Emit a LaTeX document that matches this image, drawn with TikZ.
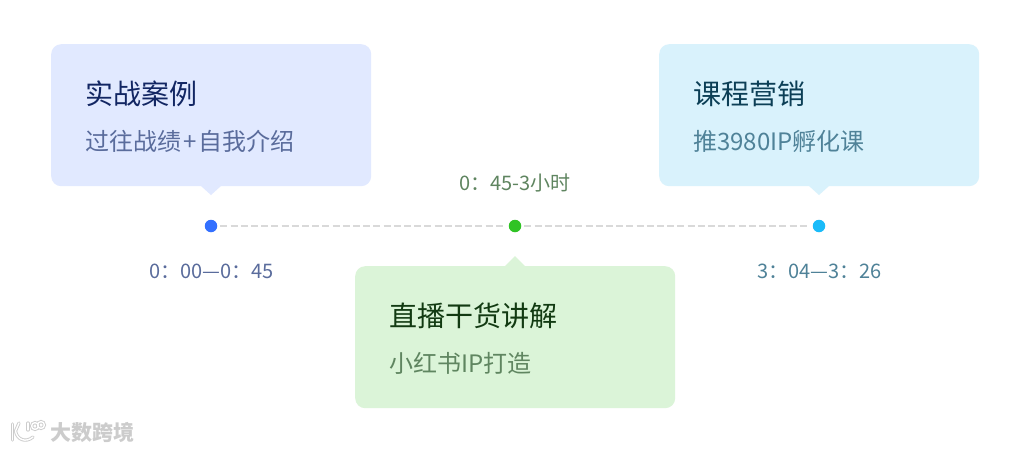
\documentclass[tikz,border=0pt]{standalone}
\usepackage{fontspec}
\setmainfont{Noto Sans CJK SC}
\definecolor{blueBg}{HTML}{E1E9FF}
\definecolor{greenBg}{HTML}{DBF4D8}
\definecolor{cyanBg}{HTML}{D9F2FC}
\definecolor{blueDot}{HTML}{3370FF}
\definecolor{greenDot}{HTML}{30C325}
\definecolor{cyanDot}{HTML}{1ABBF9}
\definecolor{blueTitle}{HTML}{122663}
\definecolor{blueSub}{HTML}{5A6C9C}
\definecolor{greenTitle}{HTML}{123A12}
\definecolor{greenSub}{HTML}{5F8560}
\definecolor{cyanTitle}{HTML}{0C3F56}
\definecolor{cyanSub}{HTML}{4F8298}
\tikzset{x=1pt,y=-1pt,
 bubble/.style={rounded corners=10pt,inner sep=0,minimum width=320pt,minimum height=142pt,draw=none},
 dotnode/.style={circle,inner sep=0,minimum size=12.5pt},
 ttl/.style={anchor=west,font=\fontsize{28}{28}\selectfont,inner sep=0},
 sub/.style={anchor=west,font=\fontsize{24}{24}\selectfont,inner sep=0},
 stamp/.style={font=\fontsize{20}{20}\selectfont,inner sep=0},
 link/.style={draw=black!15,line width=1.5pt,dash pattern=on 7pt off 3.2pt,shorten <=3pt,shorten >=3pt},
 logoOuter/.style={draw=black!20,line width=3.2pt,line cap=round},
 logoInner/.style={draw=white,line width=1.4pt,line cap=round}}
\newcommand{\logoK}[1]{%
 \draw[#1] (12.5,424) -- (12.5,440);
 \draw[#1] (19,423) -- (15.5,431) .. controls (17,440) and (26,443) .. (33,437);
 \draw[#1] (28,423) -- (28,430);
 \draw[#1] (35,426) circle[radius=3.4];
 \draw[#1] (41,425) circle[radius=3.4];}
\begin{document}
\begin{tikzpicture}
\useasboundingbox[fill=white] (0,0) rectangle (1034,451);
\node[bubble,fill=blueBg,anchor=north west] (a) at (51,44) {};
\node[bubble,fill=greenBg,anchor=north west] (b) at (355,266) {};
\node[bubble,fill=cyanBg,anchor=north west] (c) at (659,44) {};
\fill[blueBg] (201,186) -- (211,195) -- (221,186) -- cycle;
\fill[greenBg] (505,266) -- (515,256) -- (525,266) -- cycle;
\fill[cyanBg] (809,186) -- (819,195) -- (829,186) -- cycle;
\node[dotnode,fill=blueDot] (d1) at (211,226) {};
\node[dotnode,fill=greenDot] (d2) at (515,226) {};
\node[dotnode,fill=cyanDot] (d3) at (819,226) {};
\draw[link] (d1) -- (d2);
\draw[link] (d2) -- (d3);
\node[ttl,text=blueTitle] (t1) at (85,94) {实战案例};
\node[sub,text=blueSub] (s1) at (85,141) {过往战绩\kern2pt+\kern2pt自我介绍};
\node[ttl,text=greenTitle] (t2) at (389,316) {直播干货讲解};
\node[sub,text=greenSub] (s2) at (389,363) {小红书IP打造};
\node[ttl,text=cyanTitle] (t3) at (693,94) {课程营销};
\node[sub,text=cyanSub] (s3) at (693,141) {推3980IP孵化课};
\node[stamp,text=blueSub] (l1) at (211.5,271) {0：00—0：45};
\node[stamp,text=greenSub] (l2) at (515,183) {0：45-3小时};
\node[stamp,text=cyanSub] (l3) at (819.5,271) {3：04—3：26};
\logoK{logoOuter}
\logoK{logoInner}
\node[font=\fontsize{21}{21}\selectfont\bfseries,text=black!20,anchor=west,inner sep=0] (w) at (50,432) {大数跨境};
\end{tikzpicture}
\end{document}
